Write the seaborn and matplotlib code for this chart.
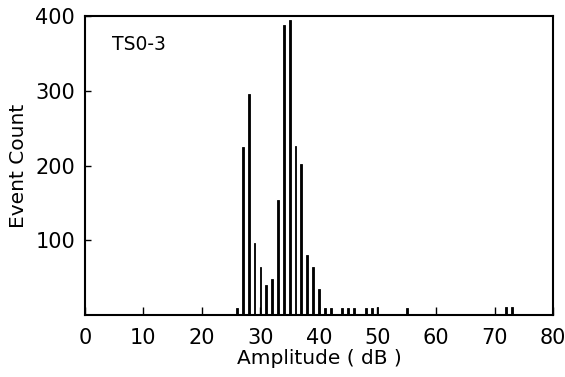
import numpy as np
import pandas as pd
import matplotlib
matplotlib.use("Agg")
import matplotlib.pyplot as plt
import seaborn as sns

# amplitude bins (dB) and event counts
amplitude = [26, 27, 28, 29, 30, 31, 32, 33, 34, 35, 36, 37, 38, 39, 40,
             41, 42, 44, 45, 46, 48, 49, 50, 55, 72, 73]
counts = [9, 225, 296, 97, 64, 40, 49, 154, 388, 394, 226, 202, 81, 65, 35,
          10, 10, 9, 9, 10, 9, 9, 11, 10, 11, 11]

x_ticks = [0, 10, 20, 30, 40, 50, 60, 70, 80]
y_ticks = [100, 200, 300, 400]

sns.set_style("ticks")
plt.rcParams["font.family"] = ["DejaVu Sans"]
plt.rcParams["text.color"] = "black"
plt.rcParams["axes.labelcolor"] = "black"

df = pd.DataFrame({"amp": amplitude, "count": counts})

fig = plt.figure(figsize=(5.65, 3.77), dpi=100)
ax = fig.add_axes([0.150, 0.164, 0.829, 0.794])

sns.barplot(data=df, x="amp", y="count", native_scale=True, width=0.3,
            color="black", edgecolor="black", linewidth=0.6, ax=ax)

ax.set_xlim(0, 80)
ax.set_ylim(0, 400)
ax.set_xticks(x_ticks)
ax.set_yticks(y_ticks)
ax.tick_params(direction="in", width=1.0, labelsize=15, colors="black")
ax.tick_params(axis="x", length=6, pad=9)
ax.tick_params(axis="y", length=4, pad=7)
for s in ax.spines.values():
    s.set_linewidth(1.5)
    s.set_color("black")

ax.set_xlabel("Amplitude ( dB )", fontsize=14.5, labelpad=1, color="black")
ax.set_ylabel("Event Count", fontsize=14.5, labelpad=5, color="black")
ax.text(0.058, 0.905, "TS0-3", transform=ax.transAxes, fontsize=13.5,
        va="center", ha="left", color="black")

fig.savefig("out.png", dpi=100)
